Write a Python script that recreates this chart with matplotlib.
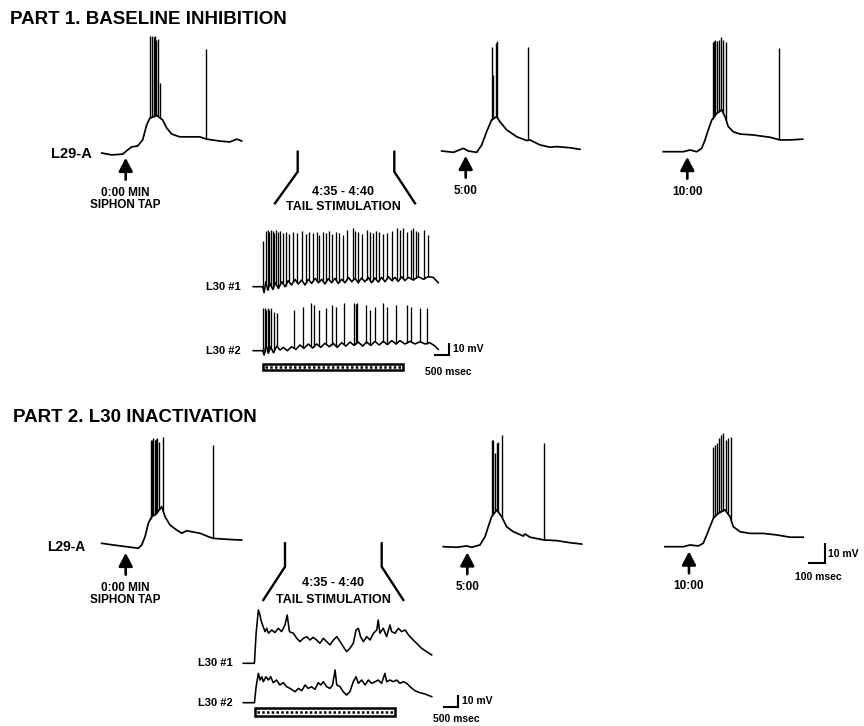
import numpy as np
import matplotlib.pyplot as plt
from matplotlib.patches import Rectangle

plt.rcParams['font.family'] = ['Liberation Sans', 'DejaVu Sans']

# ---- L29-A recordings (time in ms from trace start, membrane potential in mV above rest)
TAP_MS = 150

p1_tap0_t = [0, 62, 131, 162, 187, 225, 256, 281, 300, 344, 381, 406, 437, 487, 612, 656, 737, 800, 844, 875]
p1_tap0_v = [0, -1.0, -0.6, 1.6, 3.2, 3.7, 6.9, 14.8, 18.2, 19.8, 17.4, 13.2, 10.0, 8.5, 8.5, 7.3, 6.3, 5.8, 7.3, 6.3]
p1_tap0_spk_t = [304, 317, 325, 333, 342, 352, 367, 650]
p1_tap0_spk_v = [61.6, 61.6, 60.8, 61.6, 59.3, 60.0, 37.1, 54.5]

p1_tap5_t = [0, 73, 135, 166, 219, 250, 281, 312, 344, 364, 406, 469, 531, 552, 614, 677, 719, 802, 864]
p1_tap5_v = [0, -0.7, 1.4, 0, -0.7, 3.2, 10.2, 16.4, 18.1, 15.4, 11.1, 7.5, 5.5, 5.8, 3.2, 2.0, 2.3, 1.7, 0.9]
p1_tap5_spk_t = [314, 322, 339, 348, 537]
p1_tap5_spk_v = [54.9, 40.1, 56.9, 57.7, 54.9]

p1_tap10_t = [0, 125, 167, 209, 240, 261, 281, 303, 334, 365, 386, 406, 437, 479, 562, 667, 729, 792, 871]
p1_tap10_v = [0, 0, 0.9, 0, 1.8, 6.2, 11.5, 16.7, 20.2, 22.0, 18.4, 13.2, 10.5, 9.3, 8.8, 7.6, 6.2, 6.2, 6.6]
p1_tap10_spk_t = [309, 317, 325, 334, 346, 362, 375, 392, 725]
p1_tap10_spk_v = [57.9, 58.5, 58.9, 58.5, 58.9, 60.3, 58.9, 57.9, 54.5]

p2_tap0_t = [0, 73, 156, 229, 250, 271, 291, 312, 344, 375, 396, 427, 469, 500, 531, 562, 614, 666, 698, 781, 875]
p2_tap0_v = [0, -0.9, -1.8, -2.6, -0.9, 3.5, 10.5, 14.0, 15.8, 19.3, 14.0, 9.6, 7.0, 5.3, 6.6, 6.1, 5.3, 3.5, 2.6, 2.1, 1.7]
p2_tap0_spk_t = [306, 314, 323, 331, 339, 348, 360, 381, 698]
p2_tap0_spk_v = [54.4, 54.4, 55.3, 54.4, 54.7, 55.3, 53.5, 56.2, 51.7]

p2_tap5_t = [0, 84, 146, 177, 229, 261, 281, 302, 334, 365, 396, 437, 500, 511, 542, 625, 709, 792, 865]
p2_tap5_v = [0, -0.3, 0.4, -0.3, 0.9, 5.3, 10.5, 15.8, 19.4, 15.8, 10.5, 7.9, 5.6, 6.7, 5.0, 3.6, 3.2, 2.1, 1.4]
p2_tap5_spk_t = [304, 313, 323, 334, 344, 365, 631]
p2_tap5_spk_v = [56.2, 56.2, 49.2, 54.5, 55.3, 58.9, 54.5]

p2_tap10_t = [0, 114, 156, 208, 239, 261, 281, 302, 333, 375, 406, 427, 469, 531, 614, 698, 781, 864]
p2_tap10_v = [0, 0, 0.9, 0.4, 1.8, 6.2, 10.5, 14.9, 17.6, 19.4, 15.8, 10.5, 7.9, 7.0, 7.0, 6.2, 5.0, 5.0]
p2_tap10_spk_t = [302, 314, 327, 336, 348, 361, 381, 396, 411]
p2_tap10_spk_v = [52.7, 53.6, 54.4, 57.0, 58.9, 59.6, 56.2, 57.0, 57.9]

# ---- L30 recordings during tail stimulation (time in s from stimulus onset, mV above rest)
STIM_S = 5.0

p1_l30a_t = [-0.35, -0.01, 0.04, 0.10, 0.17, 0.25, 0.35, 0.44, 0.55, 0.67, 0.79, 0.90, 1.02, 1.14,
             1.26, 1.38, 1.50, 1.62, 1.74, 1.86, 1.98, 2.10, 2.21, 2.33, 2.45, 2.57, 2.69, 2.81,
             2.93, 3.05, 3.17, 3.29, 3.40, 3.52, 3.64, 3.76, 3.88, 4.00, 4.12, 4.24, 4.36, 4.48,
             4.60, 4.71, 4.83, 4.95, 5.07, 5.19, 5.37, 5.55, 5.73, 5.90, 6.08, 6.26]
p1_l30a_v = [0, 0, -5.5, 4.5, -3.0, 3.0, -2.4, 3.6, -1.5, 4.5, 0, 5.5, 1.5, 6.7,
             2.4, 6.1, 1.5, 6.7, 3.0, 7.6, 3.6, 6.7, 2.4, 7.3, 3.6, 7.6, 3.0, 6.7,
             3.6, 8.5, 4.5, 7.6, 3.6, 7.9, 4.5, 8.5, 3.6, 7.9, 4.2, 8.5, 4.5, 9.1,
             5.5, 8.5, 4.8, 9.1, 5.5, 8.5, 6.1, 9.1, 6.7, 9.1, 8.5, 3.6]
p1_l30a_spk_t = [0.01, 0.10, 0.17, 0.23, 0.29, 0.35, 0.39, 0.46, 0.55, 0.61, 0.70, 0.81, 0.94,
                 1.08, 1.23, 1.38, 1.54, 1.65, 1.80, 1.92, 2.01, 2.15, 2.25, 2.37, 2.46, 2.61,
                 2.73, 2.85, 2.99, 3.23, 3.29, 3.40, 3.52, 3.70, 3.82, 3.92, 4.04, 4.15, 4.27,
                 4.42, 4.60, 4.77, 4.89, 5.01, 5.15, 5.27, 5.37, 5.46, 5.55, 5.75, 5.90]
p1_l30a_spk_v = [42, 51, 52, 50, 52, 51, 49, 52, 50, 51, 49, 50, 48,
                 50, 49, 51, 48, 50, 49, 50, 47, 50, 49, 51, 48, 50,
                 49, 47, 52, 53, 51, 50, 48, 52, 50, 49, 51, 50, 48,
                 49, 51, 53, 52, 53, 50, 52, 53, 51, 50, 52, 47]

p1_l30b_t = [-0.35, -0.01, 0.04, 0.11, 0.19, 0.27, 0.37, 0.49, 0.61, 0.73, 0.87, 1.02, 1.18, 1.32,
             1.46, 1.62, 1.77, 1.92, 2.06, 2.21, 2.37, 2.51, 2.65, 2.81, 2.96, 3.11, 3.25, 3.40,
             3.56, 3.70, 3.85, 4.00, 4.15, 4.30, 4.44, 4.60, 4.75, 4.89, 5.07, 5.25, 5.43, 5.61,
             5.79, 5.96, 6.14, 6.26]
p1_l30b_v = [0, 0, -3.9, 5.2, -2.4, 3.6, -1.8, 4.2, 0.6, 3.0, 0, 3.6, 1.2, 5.2,
             2.1, 6.1, 2.4, 6.1, 3.0, 6.7, 3.6, 6.7, 3.0, 7.3, 4.2, 7.9, 4.8, 7.9,
             4.2, 7.9, 4.8, 8.5, 5.2, 8.5, 5.5, 9.1, 6.1, 9.1, 6.1, 8.5, 6.1, 8.2,
             6.1, 7.3, 4.2, 1.2]
p1_l30b_spk_t = [0.01, 0.06, 0.11, 0.17, 0.23, 0.30, 0.39, 0.51, 1.11, 1.44, 1.70, 1.82, 2.00,
                 2.25, 2.45, 2.61, 2.89, 3.25, 3.31, 3.37, 3.68, 3.82, 4.00, 4.27, 4.42, 4.75,
                 5.13, 5.27, 5.61, 5.85]
p1_l30b_spk_v = [38.5, 38.5, 37.0, 38.5, 37.0, 38.5, 35.5, 33.9, 37.0, 40.0, 43.0, 41.5, 37.0,
                 38.5, 41.5, 40.0, 43.0, 43.0, 42.4, 43.0, 41.5, 37.0, 40.0, 43.0, 40.0, 41.5,
                 41.5, 40.0, 38.5, 38.5]

p2_l30a_t = [-0.42, -0.02, 0.04, 0.12, 0.18, 0.21, 0.27, 0.36, 0.42, 0.48, 0.60, 0.71, 0.83, 0.95,
             1.07, 1.15, 1.23, 1.37, 1.49, 1.61, 1.73, 1.85, 1.96, 2.08, 2.20, 2.32, 2.44, 2.56,
             2.68, 2.80, 2.92, 3.04, 3.15, 3.27, 3.39, 3.51, 3.61, 3.69, 3.77, 3.87, 3.99, 4.11,
             4.23, 4.35, 4.40, 4.46, 4.58, 4.70, 4.82, 4.88, 5.00, 5.12, 5.24, 5.36, 5.48, 5.65,
             5.83, 5.95, 6.13, 6.31]
p2_l30a_v = [0, 0, 27.3, 48.5, 43.9, 39.4, 34.8, 28.8, 31.8, 27.3, 30.3, 27.9, 31.8, 28.8,
             34.8, 43.9, 28.8, 27.3, 22.7, 19.7, 22.7, 24.2, 21.2, 23.6, 21.2, 18.2, 22.7, 19.7,
             16.7, 21.2, 24.2, 19.7, 15.2, 10.6, 13.6, 18.2, 30.3, 31.8, 24.2, 19.7, 24.2, 21.2,
             27.3, 30.3, 39.4, 27.3, 31.8, 24.2, 34.8, 28.8, 27.3, 31.8, 28.8, 30.3, 25.8, 21.2,
             16.7, 13.6, 10.6, 7.6]

p2_l30b_t = [-0.42, -0.02, 0.04, 0.12, 0.18, 0.24, 0.30, 0.39, 0.48, 0.56, 0.65, 0.77, 0.89, 1.01,
             1.13, 1.25, 1.43, 1.55, 1.67, 1.79, 1.90, 2.02, 2.14, 2.26, 2.35, 2.44, 2.56, 2.68,
             2.77, 2.86, 2.92, 3.04, 3.15, 3.27, 3.39, 3.51, 3.61, 3.69, 3.81, 3.93, 4.05, 4.17,
             4.29, 4.40, 4.52, 4.64, 4.70, 4.82, 4.94, 5.06, 5.18, 5.30, 5.42, 5.54, 5.71, 5.89,
             6.07, 6.31]
p2_l30b_v = [0, 0, 14.5, 26.7, 20.6, 23.6, 19.1, 23.6, 20.6, 23.6, 18.2, 20.6, 16.1, 18.2,
             14.5, 13.0, 10.0, 13.0, 10.9, 16.1, 13.0, 14.5, 12.1, 18.2, 16.1, 19.1, 14.5, 13.0,
             16.1, 29.7, 16.1, 14.5, 10.0, 6.9, 10.0, 19.1, 23.6, 17.6, 20.6, 16.1, 20.6, 17.6,
             19.1, 20.6, 17.6, 26.7, 19.1, 20.6, 19.1, 20.6, 17.6, 19.1, 17.6, 14.5, 10.9, 9.1,
             7.9, 5.5]

# ---- layout (pixels, origin top-left)
W, H = 864, 726
L29_PX_MS, L29_PX_MV = 0.16, 1.9
L30_PX_S, L30_PX_MV = 28.0, 1.1

fig = plt.figure(figsize=(W / 100, H / 100), dpi=100)
over = fig.add_axes([0, 0, 1, 1])
over.set_xlim(0, W)
over.set_ylim(H, 0)
over.axis('off')


def trace_axes(x0, y0, px_t, px_v, t_lo, t_hi, v_lo, v_hi):
    # (t=0, v=0) lands on pixel (x0, y0)
    ax = fig.add_axes([(x0 + t_lo * px_t) / W, (H - y0 + v_lo * px_v) / H,
                       (t_hi - t_lo) * px_t / W, (v_hi - v_lo) * px_v / H])
    ax.set_xlim(t_lo, t_hi)
    ax.set_ylim(v_lo, v_hi)
    ax.axis('off')
    return ax


def draw_trace(ax, t, v, spk_t=None, spk_v=None, lw=1.2, spk_lw=0.9):
    ax.plot(t, v, color='k', lw=lw, solid_joinstyle='round', clip_on=False)
    if spk_t is not None:
        base = np.interp(spk_t, t, v)
        ax.vlines(spk_t, base, spk_v, color='k', lw=spk_lw, clip_on=False)


def scale_bar(ax, tc, vc, dt, dv, t_txt, v_txt, t_off, v_off, fs=7.5):
    ax.plot([tc - dt, tc, tc], [vc, vc, vc + dv], color='k', lw=1.5, clip_on=False,
            solid_joinstyle='miter')
    ax.annotate(v_txt, xy=(tc, vc + dv / 2), xytext=(v_off, 0), textcoords='offset pixels',
                ha='left', va='center', fontsize=fs, fontweight='bold')
    ax.annotate(t_txt, xy=(tc - dt / 2, vc), xytext=t_off, textcoords='offset pixels',
                ha='center', va='center', fontsize=fs, fontweight='bold')


def l29_panel(x0, y0, t, v, spk_t, spk_v, tap_label):
    ax = trace_axes(x0, y0, L29_PX_MS, L29_PX_MV, -50, 1100, -20, 70)
    draw_trace(ax, t, v, spk_t, spk_v, lw=1.25, spk_lw=1.0)
    ax.annotate(tap_label, xy=(TAP_MS, np.interp(TAP_MS, t, v)), xytext=(0, -35),
                textcoords='offset pixels', ha='center', va='top', fontsize=8.5,
                fontweight='bold', linespacing=1.05,
                arrowprops=dict(arrowstyle='-|>,head_length=0.8,head_width=0.42',
                                mutation_scale=10, color='k', lw=1.9,
                                shrinkA=3, shrinkB=4.5))
    return ax


def l30_panel(x0, y0, t, v, spk_t=None, spk_v=None):
    ax = trace_axes(x0, y0, L30_PX_S, L30_PX_MV, -0.5, 7.5, -20, 60)
    draw_trace(ax, t, v, spk_t, spk_v, lw=1.15, spk_lw=0.95)
    return ax


def stim_bar(ax, v_top, height):
    ax.add_patch(Rectangle((0, v_top - height), STIM_S, height, facecolor='white',
                           edgecolor='black', lw=1.8, clip_on=False))
    mid = v_top - height / 2
    ax.plot([0.08, STIM_S - 0.08], [mid, mid], color='k', lw=1.8, ls=(0, (1.0, 0.9)),
            clip_on=False)


# ---------------- PART 1
over.text(10, 20, 'PART 1. BASELINE INHIBITION', fontsize=13.5, fontweight='bold',
          ha='left', va='center')
over.text(92, 154, 'L29-A', fontsize=10.5, fontweight='bold', ha='right', va='center')
l29_panel(101.7, 153, p1_tap0_t, p1_tap0_v, p1_tap0_spk_t, p1_tap0_spk_v, '0:00 MIN\nSIPHON TAP')
l29_panel(441.7, 151, p1_tap5_t, p1_tap5_v, p1_tap5_spk_t, p1_tap5_spk_v, '5:00')
l29_panel(663.3, 151.7, p1_tap10_t, p1_tap10_v, p1_tap10_spk_t, p1_tap10_spk_v, '10:00')

for xs, ys in [([297.7, 297.7, 275], [151.7, 171.7, 203.3]),
               ([394.3, 394.3, 415], [151.7, 171.7, 203.3])]:
    over.plot(xs, ys, color='k', lw=1.7)
over.text(343.3, 191.7, '4:35 - 4:40', fontsize=9, fontweight='bold', ha='center', va='center')
over.text(343.3, 206.5, 'TAIL STIMULATION', fontsize=9, fontweight='bold', ha='center', va='center')

over.text(241, 286.7, 'L30 #1', fontsize=8, fontweight='bold', ha='right', va='center')
over.text(241, 351, 'L30 #2', fontsize=8, fontweight='bold', ha='right', va='center')
l30_panel(263, 286.7, p1_l30a_t, p1_l30a_v, p1_l30a_spk_t, p1_l30a_spk_v)
ax = l30_panel(263, 350.7, p1_l30b_t, p1_l30b_v, p1_l30b_spk_t, p1_l30b_spk_v)
stim_bar(ax, -12.1, 5.5)
scale_bar(ax, 6.64, -3.9, 0.5, 10, '500 msec', '10 mV', (6, -17), 4)

# ---------------- PART 2
over.text(13, 418, 'PART 2. L30 INACTIVATION', fontsize=13.5, fontweight='bold',
          ha='left', va='center')
over.text(85, 546.7, 'L29-A', fontsize=10, fontweight='bold', ha='right', va='center')
l29_panel(101.7, 543.3, p2_tap0_t, p2_tap0_v, p2_tap0_spk_t, p2_tap0_spk_v, '0:00 MIN\nSIPHON TAP')
l29_panel(443.3, 546.7, p2_tap5_t, p2_tap5_v, p2_tap5_spk_t, p2_tap5_spk_v, '5:00')
ax = l29_panel(665, 546.7, p2_tap10_t, p2_tap10_v, p2_tap10_spk_t, p2_tap10_spk_v, '10:00')
scale_bar(ax, 1000, -8.7, 100, 10, '100 msec', '10 mV', (1, -14), 3)

for xs, ys in [([285, 285, 263.3], [543.3, 566.7, 600]),
               ([381.7, 381.7, 403.3], [543.3, 566.7, 600])]:
    over.plot(xs, ys, color='k', lw=1.7)
over.text(333.3, 583.3, '4:35 - 4:40', fontsize=9, fontweight='bold', ha='center', va='center')
over.text(333.3, 600, 'TAIL STIMULATION', fontsize=9, fontweight='bold', ha='center', va='center')

over.text(233, 663.3, 'L30 #1', fontsize=8, fontweight='bold', ha='right', va='center')
over.text(233, 702.7, 'L30 #2', fontsize=8, fontweight='bold', ha='right', va='center')
l30_panel(255, 663.3, p2_l30a_t, p2_l30a_v)
ax = l30_panel(255, 702.7, p2_l30b_t, p2_l30b_v)
stim_bar(ax, -5.1, 7.0)
scale_bar(ax, 7.26, -3.9, 0.5, 10, '500 msec', '10 mV', (5, -12), 4)

fig.savefig('out.png', dpi=100)
